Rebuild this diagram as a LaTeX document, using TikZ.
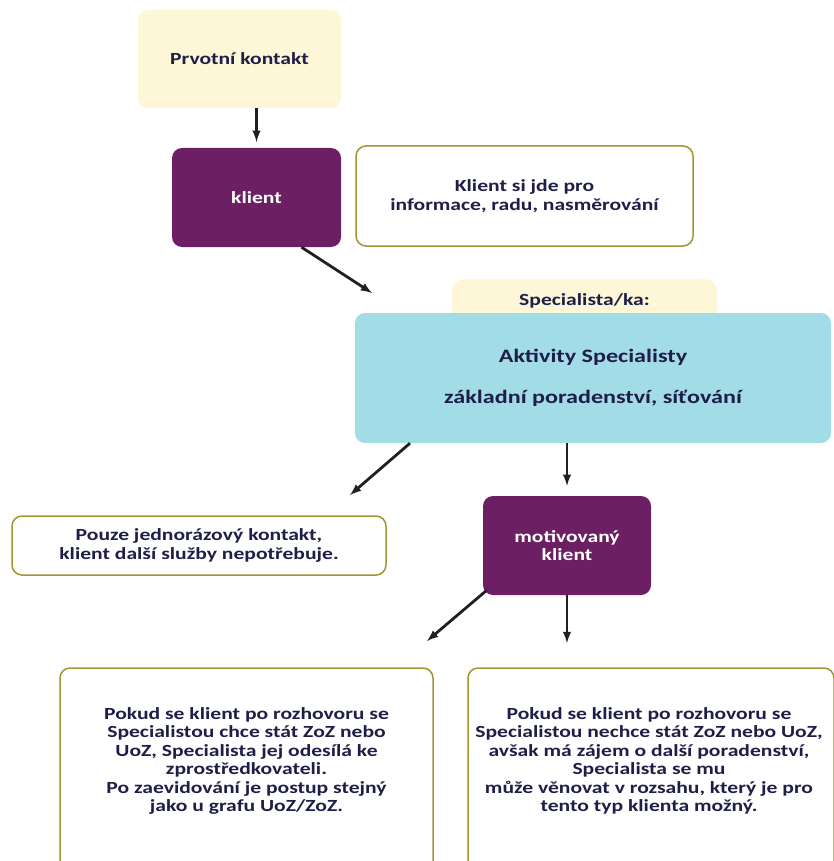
\documentclass[tikz,border=0pt]{standalone}
\usepackage{fontspec}
\setmainfont[FakeStretch=1.27]{Carlito}
\usepackage{tikz}
\usetikzlibrary{calc}
\usetikzlibrary{arrows}
\usetikzlibrary{positioning}
\definecolor{svetla}{RGB}{253,246,215}
\definecolor{fialova}{RGB}{108,32,99}
\definecolor{modra}{RGB}{162,220,230}
\definecolor{olivova}{RGB}{160,149,48}
\definecolor{textova}{RGB}{30,30,72}
\definecolor{sipka}{RGB}{35,31,32}

\begin{document}
\begin{tikzpicture}[x=1pt,y=-1pt,
        every node/.append style={align=center,rounded corners=10pt,inner sep=0pt,
            font=\fontsize{17}{18.5}\selectfont\bfseries,text=textova},
        sip/.style={-latex,line width=2.8pt,draw=sipka},
        zluty/.style={fill=svetla},
        fialovy/.style={fill=fialova,text=white},
        bily/.style={draw=olivova,line width=1.5pt,fill=white}
    ]
        \useasboundingbox (0,0) rectangle (834,861);

        \node[zluty,minimum width=203pt,minimum height=98pt] (1) at (239.5,59) {Prvotní kontakt};
        \node[fialovy,minimum width=169pt,minimum height=99pt] (2) at (256.5,197.5) {klient};
        \node[bily,minimum width=337pt,minimum height=100pt] (3) at (524.5,196) {Klient si jde pro\\informace, radu, nasměrování};
        \node[zluty,minimum width=265pt,minimum height=44pt,rounded corners=12pt] (4) at (584.5,301) {Specialista/ka:};
        \node[fill=modra,minimum width=476pt,minimum height=130pt,font=\fontsize{19}{21}\selectfont\bfseries] (5) at (593,378) {Aktivity Specialisty\\[20pt]základní poradenství, síťování};
        \node[bily,minimum width=374pt,minimum height=59pt] (6) at (199,545.5) {Pouze jednorázový kontakt,\\klient další služby nepotřebuje.};
        \node[fialovy,minimum width=168pt,minimum height=99pt] (7) at (567,545.5) {motivovaný\\klient};
        \node[bily,minimum width=373pt,minimum height=210pt] (8) at (246.5,773) {};
        \node (8t) at (246.5,761) {Pokud se klient po rozhovoru se\\Specialistou chce stát ZoZ nebo\\UoZ, Specialista jej odesílá ke\\zprostředkovateli.\\Po zaevidování je postup stejný\\jako u grafu UoZ/ZoZ.};
        \node[bily,minimum width=366pt,minimum height=210pt] (9) at (651,773) {};
        \node (9t) at (649,761) {Pokud se klient po rozhovoru se\\Specialistou nechce stát ZoZ nebo UoZ,\\avšak má zájem o další poradenství,\\Specialista se mu\\může věnovat v rozsahu, který je pro\\tento typ klienta možný.};

        \coordinate (k2) at (372,293);
        \coordinate (k6) at (350,495);
        \coordinate (k8) at (427,641);
        \coordinate (k9) at (567,643);

        \draw[sip,shorten >=6pt] (1.south -| 2.north) -- (2.north);
        \draw[sip] ([xshift=45pt]2.south) -- (k2);
        \draw[sip] ([xshift=-183pt]5.south) -- (k6);
        \draw[sip,shorten >=10pt] (5.south -| 7.north) -- (7.north);
        \draw[sip] ([xshift=4pt,yshift=5pt]7.south west) -- (k8);
        \draw[sip] (7.south) -- (k9);
    \end{tikzpicture}
\end{document}
